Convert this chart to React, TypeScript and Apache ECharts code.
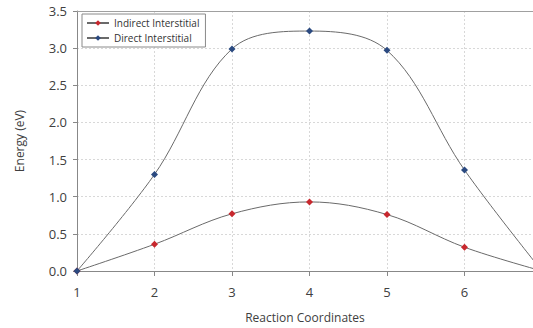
import React, { useEffect, useRef } from "react";
import * as echarts from "echarts";

const coords = [1, 2, 3, 4, 5, 6, 7];
const indirect = [0, 0.36, 0.77, 0.93, 0.76, 0.32, 0];
const direct = [0, 1.3, 2.99, 3.23, 2.97, 1.36, 0];
const seriesNames = ["Indirect Interstitial", "Direct Interstitial"];

export default function App() {
  const ref = useRef<HTMLDivElement>(null);
  useEffect(() => {
    if (!ref.current) return;
    const chart = echarts.init(ref.current, null, { renderer: "svg" });
    const font = "'Open Sans', sans-serif";
    chart.setOption({
      animation: false,
      textStyle: { fontFamily: font },
      grid: { left: 77, top: 11, right: 0, bottom: 52 },
      legend: {
        left: 82,
        top: 14,
        orient: "vertical",
        backgroundColor: "#fff",
        borderColor: "#8a8a8a",
        borderWidth: 1,
        borderRadius: 0,
        padding: [4, 6, 4, 4],
        itemGap: 5,
        itemWidth: 22,
        itemHeight: 7,
        textStyle: { fontSize: 10, color: "#333", fontFamily: font },
        data: seriesNames,
      },
      xAxis: [
        {
          type: "value",
          min: 1,
          max: 6.884,
          interval: 1,
          name: "Reaction Coordinates",
          nameLocation: "middle",
          nameGap: 40,
          nameTextStyle: { fontSize: 12, color: "#404040" },
          axisLine: { lineStyle: { color: "#888", width: 1 } },
          axisTick: { show: true, length: 5, lineStyle: { color: "#888" } },
          axisLabel: {
            fontSize: 13,
            color: "#404040",
            margin: 14,
            showMaxLabel: false,
            formatter: (v: number) => (Number.isInteger(v) ? String(v) : ""),
          },
          splitLine: { show: true, lineStyle: { color: "#d8d8d8", type: [2, 2] } },
        },
        {
          type: "value",
          position: "top",
          min: 1,
          max: 6.884,
          interval: 1,
          axisLine: { show: true, lineStyle: { color: "#a0a0a0", width: 1 } },
          axisTick: { show: false },
          axisLabel: { show: false },
          splitLine: { show: false },
        },
      ],
      yAxis: {
        type: "value",
        min: 0,
        max: 3.5,
        interval: 0.5,
        name: "Energy (eV)",
        nameLocation: "middle",
        nameGap: 52,
        nameTextStyle: { fontSize: 12, color: "#404040" },
        axisLine: { show: true, lineStyle: { color: "#888", width: 1 } },
        axisTick: { show: true, length: 4, lineStyle: { color: "#888" } },
        axisLabel: {
          fontSize: 13,
          color: "#404040",
          margin: 10,
          formatter: (v: number) => v.toFixed(1),
        },
        splitLine: { show: true, lineStyle: { color: "#d8d8d8", type: [2, 2] } },
      },
      series: [
        {
          name: seriesNames[0],
          type: "line",
          smooth: 0.35,
          data: coords.map((c, i) => [c, indirect[i]]),
          symbol: "diamond",
          symbolSize: 7,
          itemStyle: { color: "#c8282e" },
          lineStyle: { color: "#6a6a6a", width: 1 },
          clip: true,
        },
        {
          name: seriesNames[1],
          type: "line",
          smooth: 0.35,
          data: coords.map((c, i) => [c, direct[i]]),
          symbol: "diamond",
          symbolSize: 7,
          itemStyle: { color: "#2b4a80" },
          lineStyle: { color: "#6a6a6a", width: 1 },
          clip: true,
        },
      ],
    });
    return () => chart.dispose();
  }, []);
  return (
    <div
      ref={ref}
      style={{ position: "fixed", left: 0, top: 0, width: 533, height: 328, background: "#fff" }}
    />
  );
}
